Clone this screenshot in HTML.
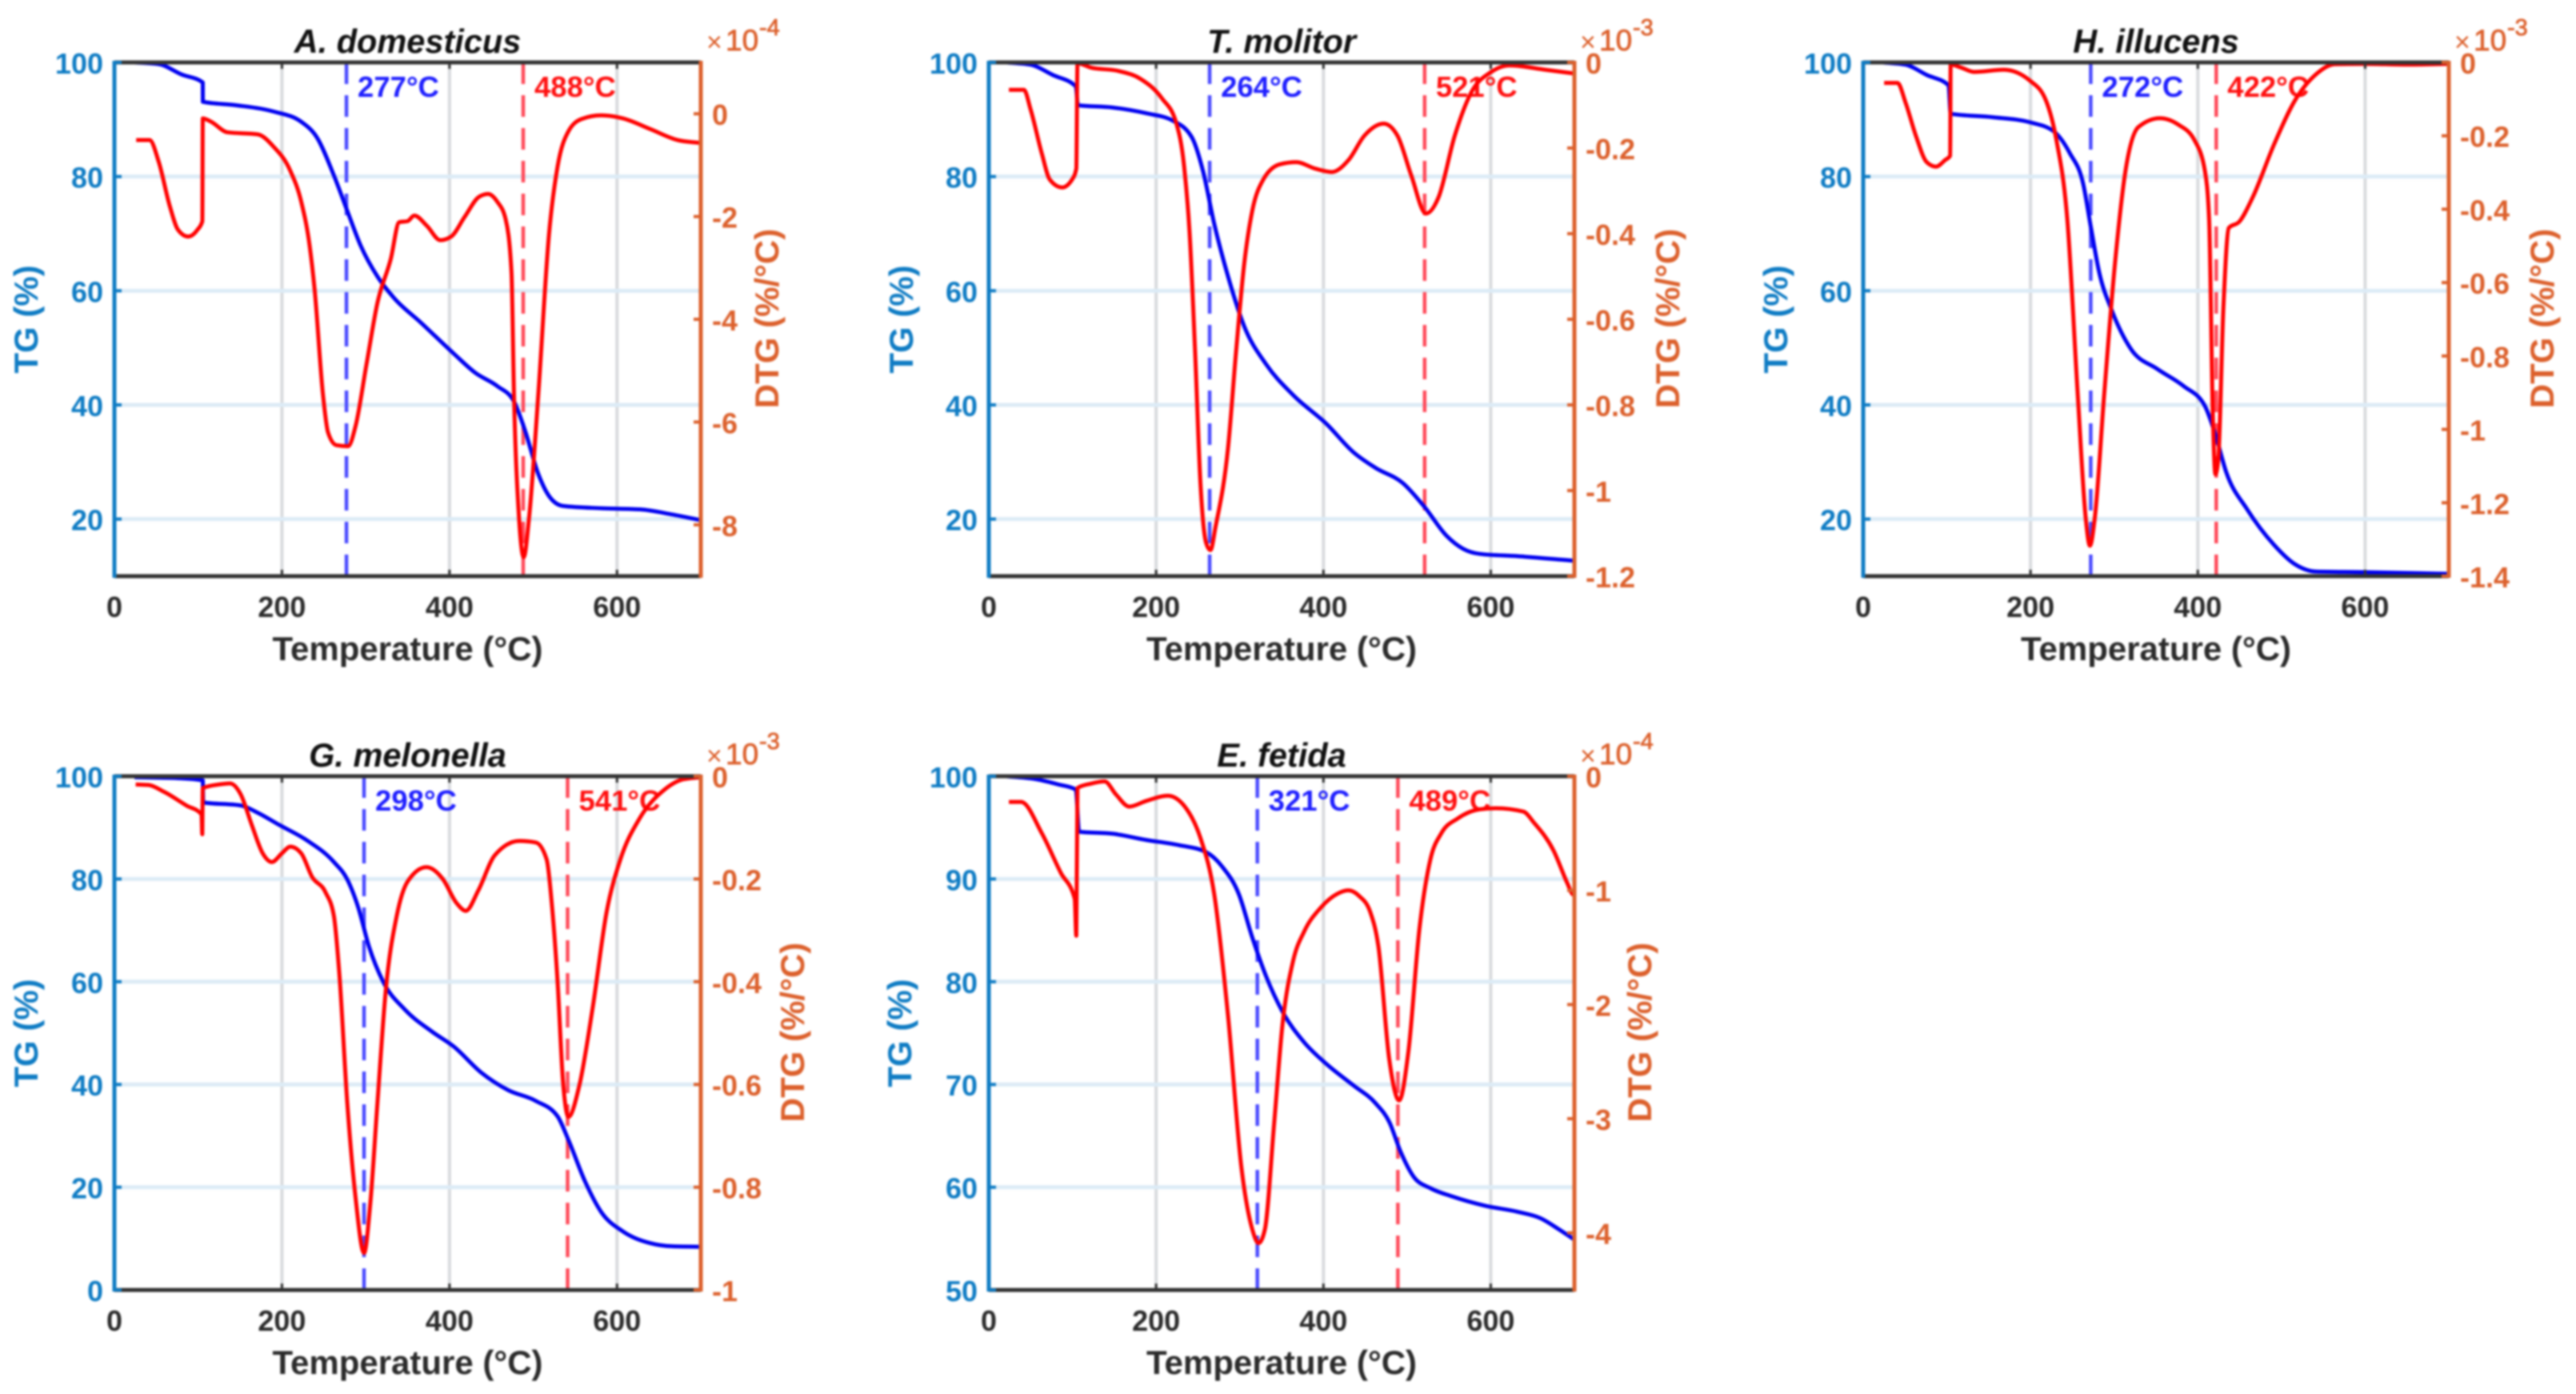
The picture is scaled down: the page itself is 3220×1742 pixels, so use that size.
<!DOCTYPE html>
<html lang="en">
<head>
<meta charset="utf-8">
<title>TG and DTG curves</title>
<style>
html,body{margin:0;padding:0;background:#fff;width:3220px;height:1742px;overflow:hidden}
svg{display:block;filter:blur(1.2px)}
text{font-family:"Liberation Sans",Arial,sans-serif;font-weight:bold}
</style>
</head>
<body>
<svg id="chart" xmlns="http://www.w3.org/2000/svg" width="3220" height="1742" viewBox="0 0 3220 1742"></svg>
<script>
// Temperature axis
const xTicks = [0, 200, 400, 600];

// A. domesticus: [temperature, value]
const aDomesticusTg = [[24,100],[53,99.7],[80,97.9],[105.5,96.5],[105.6,93.1],[145,92.5],[190,91.4],[223,89.6],[242,86.8],[262,80.2],[278,74],[294,67.9],[314,62.5],[334,58.7],[366,54.4],[405,49],[431,45.6],[457,43.3],[477,40.6],[490,35.6],[506,27.9],[519,24],[535.5,22.3],[581,21.9],[627,21.7],[666,20.8],[700,19.8]];
const aDomesticusDtg = [[26,-0.51],[42,-0.51],[53,-0.94],[66,-1.79],[76,-2.26],[88,-2.39],[99,-2.26],[105,-2.09],[105.5,-0.09],[115,-0.15],[135,-0.36],[171,-0.40],[190,-0.64],[210,-1.11],[223,-1.71],[233,-2.56],[239,-3.42],[249,-5.47],[255,-6.2],[265,-6.45],[279,-6.47],[288,-6.07],[301,-4.87],[314,-3.68],[330,-2.82],[340,-2.11],[350,-2.09],[358,-1.98],[373,-2.18],[389,-2.46],[402,-2.39],[418,-2.01],[435,-1.62],[446,-1.56],[457,-1.71],[467,-2.05],[474,-3.08],[477,-5.47],[483,-7.86],[488.6,-8.63],[495,-7.86],[506,-5.47],[519,-2.31],[529,-1.03],[542,-0.34],[558,-0.1],[581,-0.03],[607,-0.09],[640,-0.3],[672,-0.51],[700,-0.57]];
const aDomesticusPeaks = [277, 488];
const aDomesticusTgTicks = [20, 40, 60, 80, 100];
const aDomesticusDtgTicks = [0, -2, -4, -6, -8];

// T. molitor
const tMolitorTg = [[21,100],[50,99.6],[76.5,97.8],[104,95.8],[106.6,92.5],[148,92.1],[188,91.1],[220,89.8],[243,86.8],[256,81],[269.5,71.7],[286,62.5],[305.5,53.7],[331.6,47.1],[364,41.7],[403.5,36.7],[436,31.7],[462,29],[495,26.3],[521,22.1],[547,17.1],[567,14.8],[587,13.9],[632,13.5],[700,12.7]];
const tMolitorDtg = [[24,-0.064],[42,-0.064],[50,-0.11],[63.4,-0.213],[73,-0.274],[87.6,-0.292],[99.4,-0.274],[104.6,-0.248],[106,-0.002],[122,-0.012],[155,-0.02],[181,-0.038],[207,-0.084],[224,-0.141],[233.5,-0.243],[240,-0.397],[246.6,-0.675],[253,-0.983],[259.6,-1.121],[265,-1.139],[271,-1.085],[286,-0.9],[295.6,-0.675],[305.4,-0.469],[315,-0.346],[328,-0.274],[348,-0.238],[367.6,-0.233],[390,-0.248],[410,-0.256],[430,-0.228],[449,-0.171],[472,-0.143],[488.5,-0.171],[505,-0.264],[522.5,-0.353],[537.6,-0.315],[557,-0.171],[577,-0.069],[600,-0.023],[622.6,-0.007],[665,-0.017],[700,-0.026]];
const tMolitorPeaks = [264, 521];
const tMolitorTgTicks = [20, 40, 60, 80, 100];
const tMolitorDtgTicks = [0, -0.2, -0.4, -0.6, -0.8, -1, -1.2];

// H. illucens
const hIllucensTg = [[23,100],[50.7,99.6],[76,97.8],[102,96],[104.5,91],[155,90.4],[199.5,89.5],[228,87.9],[247,84.1],[263,78.7],[272.3,71],[282,63.3],[297.6,56.4],[320,49.8],[351.5,46.3],[383,43.3],[408.5,39.8],[421,34.8],[434,28.2],[459,21.7],[491,15.5],[516,12.1],[541.5,10.8],[598.5,10.7],[700,10.4]];
const hIllucensDtg = [[25,-0.056],[41,-0.056],[50.7,-0.11],[63,-0.2],[76,-0.272],[87,-0.284],[98,-0.266],[104,-0.254],[104.5,-0.006],[117,-0.014],[133,-0.026],[168,-0.02],[199.5,-0.05],[218.5,-0.104],[231,-0.212],[244,-0.428],[256.5,-0.907],[266,-1.242],[271,-1.317],[276.8,-1.242],[288,-0.907],[301,-0.547],[313.5,-0.296],[329,-0.176],[354.6,-0.152],[377,-0.17],[396,-0.212],[408.5,-0.296],[413.5,-0.428],[418,-0.966],[421,-1.122],[424.3,-1.086],[430.6,-0.667],[437,-0.451],[449.6,-0.434],[465.5,-0.368],[491,-0.224],[516,-0.104],[541.5,-0.032],[563.6,-0.005],[598.5,-0.004],[649,-0.006],[700,-0.004]];
const hIllucensPeaks = [272, 422];
const hIllucensTgTicks = [20, 40, 60, 80, 100];
const hIllucensDtgTicks = [0, -0.2, -0.4, -0.6, -0.8, -1, -1.2, -1.4];

// G. melonella
const gMelonellaTg = [[24,99.8],[79.5,99.6],[105.5,99.2],[106,94.9],[151,94.3],[171,92.9],[197,90.5],[229,87.6],[262,83.3],[278,79.9],[291,74.5],[304,66.8],[320.5,60.1],[346.6,54.6],[379,50.3],[405,47.4],[438,42.3],[470,38.9],[503,36.8],[529,33.8],[542,29.2],[561.6,21.2],[581,15.2],[607,11.4],[640,9.1],[666,8.5],[700,8.4]];
const gMelonellaDtg = [[25.4,-0.016],[40,-0.017],[60,-0.031],[86,-0.057],[104,-0.074],[104.9,-0.113],[105.5,-0.023],[125,-0.016],[138,-0.014],[151,-0.036],[164,-0.095],[177,-0.15],[188,-0.167],[200,-0.15],[210,-0.137],[223,-0.15],[236,-0.196],[252,-0.226],[262,-0.272],[268.4,-0.382],[278,-0.636],[288,-0.822],[298,-0.928],[305.5,-0.831],[314,-0.636],[324,-0.416],[337,-0.272],[350,-0.205],[372.6,-0.177],[392,-0.2],[408.5,-0.247],[419.5,-0.262],[434.5,-0.222],[454,-0.154],[483.4,-0.126],[503,-0.129],[516,-0.162],[522.5,-0.255],[529,-0.399],[535.5,-0.594],[542,-0.663],[555,-0.602],[571,-0.45],[587.6,-0.264],[604,-0.162],[627,-0.082],[656,-0.027],[679,-0.006],[700,-0.002]];
const gMelonellaPeaks = [298, 541];
const gMelonellaTgTicks = [0, 20, 40, 60, 80, 100];
const gMelonellaDtgTicks = [0, -0.2, -0.4, -0.6, -0.8, -1];

// E. fetida
const eFetidaTg = [[21,100],[57,99.7],[83,99.2],[104,98.7],[108,94.6],[148.5,94.4],[188,93.8],[227,93.3],[260,92.6],[279,91.2],[299,88.5],[315,84.3],[331.6,80.5],[351,77.1],[377,74.1],[403.5,72],[436,69.9],[462,68.2],[479,66.3],[492,63.5],[508,61],[528,59.9],[554,59.1],[593,58.2],[632.5,57.6],[659,57],[681.5,55.9],[700,54.9]];
const eFetidaDtg = [[24,-0.225],[38.6,-0.225],[63.4,-0.5],[86,-0.845],[102.7,-1.073],[104.6,-1.397],[106,-0.103],[122,-0.065],[138.6,-0.046],[152,-0.16],[168,-0.266],[188,-0.217],[214,-0.171],[237,-0.293],[253,-0.541],[269.5,-1.035],[286,-2.1],[302,-3.43],[315,-3.97],[322.4,-4.09],[330,-3.97],[341,-3.05],[351,-2.18],[364,-1.61],[377,-1.36],[397,-1.15],[416.6,-1.03],[429.7,-1.0],[442.8,-1.05],[456,-1.19],[465.7,-1.49],[478.7,-2.48],[490.5,-2.84],[501.6,-2.41],[514.7,-1.34],[527.8,-0.73],[540.9,-0.5],[560.5,-0.37],[586.7,-0.29],[606,-0.28],[639,-0.31],[652,-0.41],[675,-0.65],[691.7,-0.94],[698,-1.035],[700,-1.04]];
const eFetidaPeaks = [321, 489];
const eFetidaTgTicks = [50, 60, 70, 80, 90, 100];
const eFetidaDtgTicks = [0, -1, -2, -3, -4];

const panels = [
  {key:'a-domesticus', title:'A. domesticus', left:143, right:876, top:78, bottom:720, tg:aDomesticusTg, dtg:aDomesticusDtg, peaks:aDomesticusPeaks, tgTicks:aDomesticusTgTicks, dtgTicks:aDomesticusDtgTicks, tgMin:10, dtgMin:-9, dtgMax:1, exp:'-4', tgOff:111, dtgOff:82},
  {key:'t-molitor', title:'T. molitor', left:1236, right:1968, top:78, bottom:720, tg:tMolitorTg, dtg:tMolitorDtg, peaks:tMolitorPeaks, tgTicks:tMolitorTgTicks, dtgTicks:tMolitorDtgTicks, tgMin:10, dtgMin:-1.2, dtgMax:0, exp:'-3', tgOff:110, dtgOff:116},
  {key:'h-illucens', title:'H. illucens', left:2329, right:3061, top:78, bottom:720, tg:hIllucensTg, dtg:hIllucensDtg, peaks:hIllucensPeaks, tgTicks:hIllucensTgTicks, dtgTicks:hIllucensDtgTicks, tgMin:10, dtgMin:-1.4, dtgMax:0, exp:'-3', tgOff:110, dtgOff:116},
  {key:'g-melonella', title:'G. melonella', left:143, right:876, top:970, bottom:1612, tg:gMelonellaTg, dtg:gMelonellaDtg, peaks:gMelonellaPeaks, tgTicks:gMelonellaTgTicks, dtgTicks:gMelonellaDtgTicks, tgMin:0, dtgMin:-1, dtgMax:0, exp:'-3', tgOff:111, dtgOff:114},
  {key:'e-fetida', title:'E. fetida', left:1236, right:1968, top:970, bottom:1612, tg:eFetidaTg, dtg:eFetidaDtg, peaks:eFetidaPeaks, tgTicks:eFetidaTgTicks, dtgTicks:eFetidaDtgTicks, tgMin:50, dtgMin:-4.5, dtgMax:0, exp:'-4', tgOff:112, dtgOff:81}
];

const NS = 'http://www.w3.org/2000/svg';
const root = document.getElementById('chart');
const LEFT_COLOR = '#0f7cc4', RIGHT_COLOR = '#dc602c', DARK = '#333333';

function make(tag, parent, attrs, text) {
  const el = document.createElementNS(NS, tag);
  for (const k in attrs) el.setAttribute(k, attrs[k]);
  if (text !== undefined) el.textContent = text;
  parent.appendChild(el);
  return el;
}

// Steffen monotone cubic path: smooth, with no overshoot at steep thermal steps
function smoothPath(pts) {
  const n = pts.length, d = [], h = [], m = [];
  for (let i = 0; i < n - 1; i++) {
    h.push(pts[i+1][0] - pts[i][0]);
    d.push((pts[i+1][1] - pts[i][1]) / h[i]);
  }
  m.push(d[0]);
  for (let i = 1; i < n - 1; i++) {
    const q = (d[i-1] * h[i] + d[i] * h[i-1]) / (h[i-1] + h[i]);
    m.push((Math.sign(d[i-1]) + Math.sign(d[i])) * Math.min(Math.abs(d[i-1]), Math.abs(d[i]), 0.5 * Math.abs(q)));
  }
  m.push(d[n-2]);
  let s = 'M' + pts[0][0].toFixed(2) + ' ' + pts[0][1].toFixed(2);
  for (let i = 0; i < n - 1; i++) {
    const t = h[i] / 3;
    s += 'C' + (pts[i][0] + t).toFixed(2) + ' ' + (pts[i][1] + m[i] * t).toFixed(2) + ' ' +
         (pts[i+1][0] - t).toFixed(2) + ' ' + (pts[i+1][1] - m[i+1] * t).toFixed(2) + ' ' +
         pts[i+1][0].toFixed(2) + ' ' + pts[i+1][1].toFixed(2);
  }
  return s;
}

panels.forEach(function (p) {
  const xScale = function (t) { return p.left + (t / 700) * (p.right - p.left); };
  const tgScale = function (v) { return p.bottom - (v - p.tgMin) / (100 - p.tgMin) * (p.bottom - p.top); };
  const dtgScale = function (v) { return p.bottom - (v - p.dtgMin) / (p.dtgMax - p.dtgMin) * (p.bottom - p.top); };
  const midY = (p.top + p.bottom) / 2;

  const g = make('g', root, {});
  
  

  // gridlines
  xTicks.slice(1).forEach(function (t) {
    const el = make('line', g, {x1:xScale(t), x2:xScale(t), y1:p.top, y2:p.bottom, stroke:'#d8dadd', 'stroke-width':4});
    
    
  });
  p.tgTicks.forEach(function (v) {
    if (v === 100 || v === p.tgMin) return;
    const el = make('line', g, {x1:p.left, x2:p.right, y1:tgScale(v), y2:tgScale(v), stroke:'#dcebf6', 'stroke-width':5});
    
    
  });

  // peak markers
  p.peaks.forEach(function (t, i) {
    const color = i === 0 ? '#4a4aff' : '#ff4a5a';
    const el = make('line', g, {x1:xScale(t), x2:xScale(t), y1:p.top, y2:p.bottom, stroke:color, 'stroke-width':4.5, 'stroke-dasharray':'27 14'});
    
    
    const lab = make('text', g, {x:xScale(t) + 14, y:p.top + 43, fill:i === 0 ? '#1f1fff' : '#ff1010', 'font-size':36.5}, t + '°C');
    
    
  });

  // series
  const tgLine = make('path', g, {d:smoothPath(p.tg.map(function (q) { return [xScale(q[0]), tgScale(q[1])]; })), fill:'none', stroke:'#0000f0', 'stroke-width':5, 'stroke-linejoin':'round'});
  
  
  const dtgLine = make('path', g, {d:smoothPath(p.dtg.map(function (q) { return [xScale(q[0]), dtgScale(q[1])]; })), fill:'none', stroke:'#ff0000', 'stroke-width':5, 'stroke-linejoin':'round'});
  
  

  // axes frame
  [[p.left, p.top, p.right, p.top, DARK], [p.left, p.bottom, p.right, p.bottom, DARK], [p.left, p.top - 2, p.left, p.bottom + 2, LEFT_COLOR], [p.right, p.top - 2, p.right, p.bottom + 2, RIGHT_COLOR]].forEach(function (a, i) {
    const el = make('line', g, {x1:a[0], y1:a[1], x2:a[2], y2:a[3], stroke:a[4], 'stroke-width':5});
    
    
  });

  // x ticks
  xTicks.forEach(function (t) {
    if (t > 0) {
      const tb = make('line', g, {x1:xScale(t), x2:xScale(t), y1:p.bottom, y2:p.bottom - 8, stroke:DARK, 'stroke-width':3});
      
      
      const tt = make('line', g, {x1:xScale(t), x2:xScale(t), y1:p.top, y2:p.top + 8, stroke:DARK, 'stroke-width':3});
      
      
    }
    const lab = make('text', g, {x:xScale(t), y:p.bottom + 51, fill:'#2b2b2b', 'font-size':36, 'text-anchor':'middle'}, t);
    
    
  });

  // TG ticks
  p.tgTicks.forEach(function (v) {
    const tk = make('line', g, {x1:p.left, x2:p.left + 9, y1:tgScale(v), y2:tgScale(v), stroke:LEFT_COLOR, 'stroke-width':4});
    
    
    const lab = make('text', g, {x:p.left - 14, y:tgScale(v) + 14, fill:LEFT_COLOR, 'font-size':36, 'text-anchor':'end'}, v);
    
    
  });

  // DTG ticks
  p.dtgTicks.forEach(function (v) {
    const tk = make('line', g, {x1:p.right, x2:p.right - 9, y1:dtgScale(v), y2:dtgScale(v), stroke:RIGHT_COLOR, 'stroke-width':4});
    
    
    const lab = make('text', g, {x:p.right + 14, y:dtgScale(v) + 14, fill:RIGHT_COLOR, 'font-size':36}, v);
    
    
  });

  // titles
  const title = make('text', g, {x:(p.left + p.right) / 2, y:p.top - 12, fill:'#111111', 'font-size':41.5, 'font-style':'italic', 'text-anchor':'middle'}, p.title);
  
  
  const xt = make('text', g, {x:(p.left + p.right) / 2, y:p.bottom + 105, fill:'#2b2b2b', 'font-size':42, 'text-anchor':'middle'}, 'Temperature (°C)');
  
  
  const tgX = p.left - p.tgOff + 15;
  const tgT = make('text', g, {x:tgX, y:midY, transform:'rotate(-90 ' + tgX + ' ' + midY + ')', fill:LEFT_COLOR, 'font-size':42, 'text-anchor':'middle'}, 'TG (%)');
  
  
  const dtgX = p.right + p.dtgOff + 15;
  const dtgY = midY - 1;
  const dtgT = make('text', g, {x:dtgX, y:dtgY, transform:'rotate(-90 ' + dtgX + ' ' + dtgY + ')', fill:RIGHT_COLOR, 'font-size':42, 'text-anchor':'middle'}, 'DTG (%/°C)');
  
  

  // scale factor
  const sf = make('g', g, {fill:RIGHT_COLOR, stroke:RIGHT_COLOR, 'stroke-width':0.8});
  
  
  const s1 = make('text', sf, {x:p.right + 7, y:p.top - 14, 'font-size':34, style:'font-weight:normal', 'stroke-width':0}, '×');
  
  
  const s2 = make('text', sf, {x:p.right + 31, y:p.top - 15, 'font-size':37, style:'font-weight:normal'}, '10');
  
  
  const s3 = make('text', sf, {x:p.right + 73, y:p.top - 34, 'font-size':29, style:'font-weight:normal'}, p.exp);
  
  
});
</script>
</body>
</html>
